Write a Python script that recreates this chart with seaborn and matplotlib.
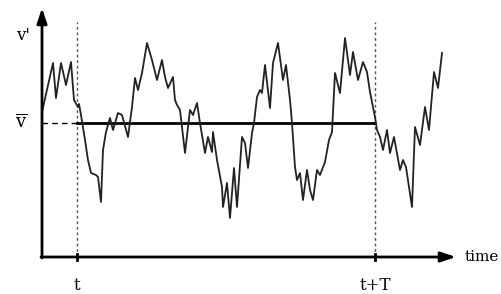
import numpy as np
import pandas as pd
import matplotlib
matplotlib.use('Agg')
import matplotlib.pyplot as plt
import seaborn as sns

# fluctuating velocity signal v'(time)
time_vals = [42, 53, 56, 61, 66, 71, 74, 78, 79, 81, 85, 88, 91, 96, 98, 101,
             103, 106, 110, 113, 118, 122, 128, 132, 135, 138, 142, 147, 152,
             157, 162, 165, 168, 173, 175, 177, 180, 185, 190, 193, 197, 200,
             205, 208, 212, 213, 217, 222, 223, 227, 230, 234, 237, 242, 245,
             248, 252, 254, 257, 260, 262, 265, 270, 273, 278, 283, 286, 290,
             292, 295, 297, 300, 303, 307, 310, 313, 317, 320, 325, 329, 332,
             335, 340, 345, 350, 353, 358, 363, 367, 370, 375, 377, 380, 383,
             387, 390, 394, 400, 403, 406, 412, 415, 420, 425, 429, 434, 438,
             442]
vel_vals = [145, 194, 159, 194, 172, 195, 157, 150, 153, 142, 117, 97, 84, 82,
            80, 55, 107, 125, 139, 127, 144, 142, 120, 150, 179, 167, 184, 214,
            197, 177, 197, 180, 169, 180, 157, 152, 147, 104, 147, 142, 154,
            134, 104, 120, 105, 125, 97, 70, 50, 74, 39, 89, 50, 120, 114, 89,
            124, 134, 160, 167, 164, 192, 149, 194, 214, 177, 192, 157, 134,
            90, 77, 84, 57, 87, 67, 57, 87, 82, 95, 117, 125, 184, 164, 219,
            182, 205, 177, 195, 185, 165, 140, 127, 120, 107, 127, 104, 120,
            87, 97, 90, 50, 130, 112, 150, 127, 185, 169, 204]
v_mean = 134
t_start, t_end = 77, 375
t_labels = ['t', 't+T']

df = pd.DataFrame({'time': time_vals, 'v': vel_vals})

plt.rcParams['font.family'] = ['DejaVu Serif']
plt.rcParams['mathtext.fontset'] = 'dejavuserif'

fig = plt.figure(figsize=(5.01, 2.94), dpi=100)
ax = fig.add_axes([0, 0, 1, 1])
ax.set_xlim(0, 501)
ax.set_ylim(-37, 257)
ax.axis('off')

# axes drawn as arrows
ax.annotate('', xy=(42, 249), xytext=(42, -1),
            arrowprops=dict(arrowstyle='-|>,head_length=0.9,head_width=0.3',
                            color='black', lw=2, shrinkA=0, shrinkB=0))
ax.annotate('', xy=(456, 0), xytext=(41, 0),
            arrowprops=dict(arrowstyle='-|>,head_length=0.9,head_width=0.3',
                            color='black', lw=2, shrinkA=0, shrinkB=0))

# averaging window
for tv in [t_start, t_end]:
    ax.plot([tv, tv], [0, 235], color='#555555', lw=1, ls=(0, (2, 2)))
    ax.plot([tv, tv], [-3, 3], color='black', lw=2)
ax.plot([42, t_start], [v_mean, v_mean], color='black', lw=1, ls=(0, (4, 3)))
ax.plot([t_start, t_end], [v_mean, v_mean], color='black', lw=2)

sns.lineplot(data=df, x='time', y='v', ax=ax, color='#222222', lw=1.3,
             sort=False, estimator=None)

ax.text(16, 257 - 36, "v'", fontsize=12, ha='left', va='center')
ax.text(15, 257 - 122, r'$\overline{\mathrm{v}}$', fontsize=13, ha='left', va='center')
ax.text(t_start, -28, t_labels[0], fontsize=12, ha='center', va='center')
ax.text(t_end, -28, t_labels[1], fontsize=12, ha='center', va='center')
ax.text(465, 0, 'time', fontsize=11, ha='left', va='center')

fig.savefig('out.png', dpi=100)
